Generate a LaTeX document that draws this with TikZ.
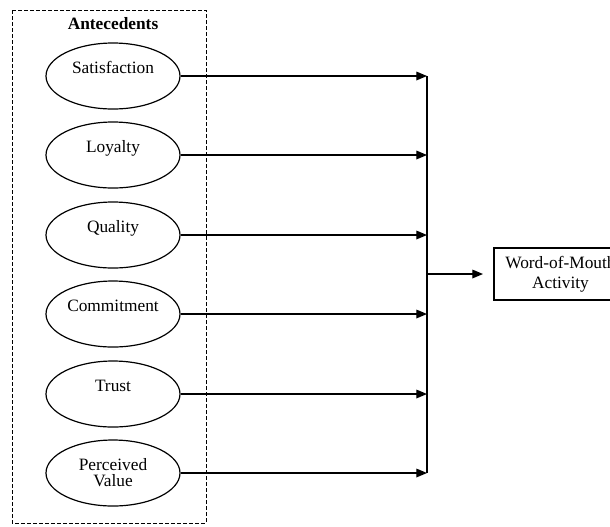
\documentclass[tikz,border=0pt]{standalone}
\usepackage{fontspec}
\setmainfont{Liberation Serif}
\usetikzlibrary{shapes.geometric,arrows.meta}

\tikzset{
  ante/.style={ellipse, draw, line width=0.9pt, inner sep=0pt,
    minimum width=100.5pt, minimum height=49.5pt,
    font=\fontsize{13}{13}\selectfont, align=center},
  oneline/.style={text height=7pt, text depth=11pt},
  feed/.style={line width=0.9pt, -{Triangle[length=8pt,width=6.5pt]}},
  bus/.style={line width=0.9pt}
}

\begin{document}
\begin{tikzpicture}[x=0.75pt,y=0.75pt,yscale=-1,xscale=1]
        \useasboundingbox (0,0) rectangle (610,526);
        \clip (0,0) rectangle (610,526);

        %Shape: Dashed frame
        \draw [dash pattern={on 3pt off 1.5pt}, line width=0.7pt] (12,10) rectangle (206,523);
        % Text Node
        \node (head) at (113,24) {\fontsize{13}{13}\selectfont\bfseries Antecedents};

        %Shape: Ellipses
        \node [ante, oneline] (sat) at (113,76) {Satisfaction};
        \node [ante, oneline] (loy) at (113,155) {Loyalty};
        \node [ante, oneline] (qua) at (113,235) {Quality};
        \node [ante, oneline] (com) at (113,314) {Commitment};
        \node [ante, oneline] (tru) at (113,394) {Trust};
        \node [ante] (pva) at (113,473) {Perceived\\[-1pt]Value};

        %Shape: Outcome box
        \node [draw, line width=1.2pt, minimum height=39pt, text width=96pt, inner sep=2pt,
               anchor=west, align=center, font=\fontsize{13}{15}\selectfont]
               (wom) at (493,274) {Word-of-Mouth\\Activity};

        %Straight Lines
        \coordinate (jn) at (427,274);
        \foreach \src in {sat,loy,qua,com,tru,pva}
          \draw [feed] (\src.east) -- (\src.east -| jn);
        \draw [bus] (sat.east -| jn) -- (pva.east -| jn);
        \draw [feed, shorten >=7.5pt] (jn) -- (wom.west);

\end{tikzpicture}
\end{document}
